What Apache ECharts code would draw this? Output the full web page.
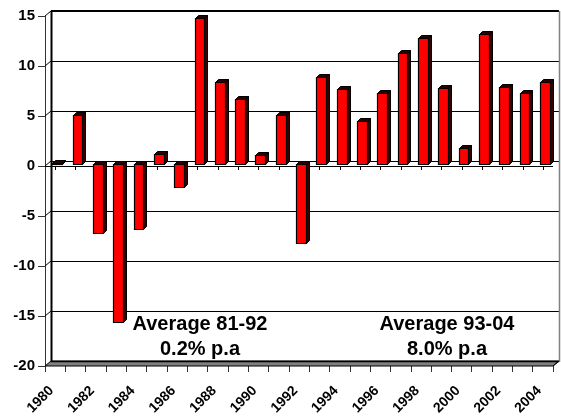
<!DOCTYPE html>
<html><head><meta charset="utf-8">
<script src="https://cdn.jsdelivr.net/npm/echarts@6/dist/echarts.min.js"></script>
<style>html,body{margin:0;padding:0;background:#fff}#c{width:561px;height:418px}</style>
</head><body><div id="c"></div>
<script>
const years = ['1980','1981','1982','1983','1984','1985','1986','1987','1988','1989','1990','1991','1992',
               '1993','1994','1995','1996','1997','1998','1999','2000','2001','2002','2003','2004'];
const growth = [0.1, 4.9, -6.9, -15.8, -6.5, 1.0, -2.3, 14.6, 8.2, 6.5, 0.9, 4.9, -7.9,
                8.7, 7.5, 4.3, 7.1, 11.1, 12.6, 7.6, 1.6, 13.0, 7.7, 7.1, 8.2];
const yTicks = [-20, -15, -10, -5, 0, 5, 10, 15];
const xTickLabels = ['1980','1982','1984','1986','1988','1990','1992','1994','1996','1998','2000','2002','2004'];
const avgText1 = ['Average 81-92', '0.2% p.a'];
const avgText2 = ['Average 93-04', '8.0% p.a'];

const FONT = 'Arial, "Liberation Sans", sans-serif';
const DX = 6, DY = -5;     // back wall depth
const BDX = 3, BDY = -3;   // bar depth
const SHX = 2, SHY = -2;   // bar shift from front plane
const yMin = yTicks[0], yMax = yTicks[yTicks.length - 1];

function px(v) { return Math.round(v) + 0.5; }

function renderFrame(params, api) {
  const cs = params.coordSys;
  const x0 = cs.x, x1 = cs.x + cs.width;
  const yTop = api.coord([0, yMax])[1];
  const yB = api.coord([0, yMin])[1];
  const ch = [];
  const line = (a, b, c, d, color, w) => ch.push({
    type: 'line', shape: { x1: a, y1: b, x2: c, y2: d },
    style: { stroke: color, lineWidth: w }
  });
  ch.push({
    type: 'polygon',
    shape: { points: [[x0, yB], [x1, yB], [x1 + DX, yB + DY], [x0 + DX, yB + DY]] },
    style: { fill: '#808080', stroke: '#000', lineWidth: 1 }
  });
  line(x0 + DX, px(yB + DY), x1 + DX, px(yB + DY), '#000', 1.5);
  yTicks.forEach(v => {
    if (v === yMin) return;
    const y = api.coord([0, v])[1];
    line(x0 + DX, px(y + DY), x1 + DX, px(y + DY), '#000', 1);
    line(x0, y, x0 + DX, y + DY, '#000', 1);
  });
  line(px(x0 + DX), yTop + DY, px(x0 + DX), yB + DY, '#000', 2);
  line(x0 + DX, yTop + DY, x1 + DX, yTop + DY, '#000', 2);
  line(px(x1 + DX), yTop + DY, px(x1 + DX), yB + DY + 1, '#808080', 1.5);
  line(x1, yB, x1 + DX, yB + DY, '#000', 1);
  const y0 = api.coord([0, 0])[1];
  line(x0, px(y0), x1, px(y0), '#000', 1);
  for (let i = 0; i <= years.length; i++) {
    const x = px(api.coord([i - 0.5, 0])[0]);
    line(x, y0, x, y0 + 4, '#000', 1);
  }
  // rotated year labels at category boundaries
  xTickLabels.forEach(lbl => {
    const idx = years.indexOf(lbl);
    const x = api.coord([idx - 0.5, 0])[0];
    ch.push({
      type: 'text', x: x - 8.5, y: yB + 17.5, rotation: Math.PI / 4,
      style: { text: lbl, font: 'bold 14px ' + FONT, fontSize: 14, fontWeight: 'bold', fontFamily: FONT,
               fill: '#000', align: 'right', verticalAlign: 'top' }
    });
  });
  return { type: 'group', children: ch };
}

function renderBar(params, api) {
  const i = api.value(0), v = api.value(1);
  const cx = api.coord([i, 0])[0];
  const yz = api.coord([i, 0])[1];
  const yv = api.coord([i, v])[1];
  const bw = api.size([1, 0])[0] * 0.48;
  const xL = Math.round(cx + SHX - bw / 2) + 0.5, xR = Math.round(cx + SHX + bw / 2) + 0.5;
  const yT = Math.round(Math.min(yz, yv) + SHY) + 0.5;
  const yBt = Math.round(Math.max(yz, yv) + SHY) + 0.5;
  return {
    type: 'group',
    children: [
      { type: 'polygon', shape: { points: [[xR, yT], [xR + BDX, yT + BDY], [xR + BDX, yBt + BDY], [xR, yBt]] },
        style: { fill: '#3a0000', stroke: '#000', lineWidth: 1 } },
      { type: 'polygon', shape: { points: [[xL, yT], [xL + BDX, yT + BDY], [xR + BDX, yT + BDY], [xR, yT]] },
        style: { fill: '#2a0000', stroke: '#000', lineWidth: 1 } },
      { type: 'rect', shape: { x: xL, y: yT, width: xR - xL, height: Math.max(yBt - yT, 1) },
        style: { fill: '#ff0000', stroke: '#000', lineWidth: 1.2 } }
    ]
  };
}

const chart = echarts.init(document.getElementById('c'), null, { renderer: 'canvas' });
chart.setOption({
  backgroundColor: '#fff',
  animation: false,
  grid: { left: 45, right: 8, top: 16, bottom: 52, containLabel: false },
  xAxis: [
    { type: 'category', data: years, boundaryGap: true, show: false, position: 'bottom' },
    { type: 'value', min: 1980, max: 2005, interval: 1, position: 'bottom',
      axisLine: { show: false, onZero: false },
      axisTick: { show: true, length: 6, lineStyle: { color: '#333' } },
      splitLine: { show: false },
      axisLabel: { show: false } }
  ],
  yAxis: {
    type: 'value', min: yMin, max: yMax, interval: 5,
    axisLine: { show: true, onZero: false, lineStyle: { color: '#333', width: 1 } },
    axisTick: { show: true, length: 7, lineStyle: { color: '#333' } },
    splitLine: { show: false },
    axisLabel: { margin: 10, color: '#000', fontWeight: 'bold', fontSize: 15, fontFamily: FONT }
  },
  series: [
    { type: 'custom', name: 'frame', xAxisIndex: 0, yAxisIndex: 0, z: 1, silent: true, clip: false,
      data: [[0, 0]], renderItem: renderFrame },
    { type: 'custom', name: 'growth', xAxisIndex: 0, yAxisIndex: 0, z: 3,
      encode: { x: 0, y: 1 },
      data: growth.map((v, i) => [i, v]), renderItem: renderBar }
  ],
  graphic: [
    { type: 'text', x: 200, y: 324, z: 10, style: { text: avgText1[0], font: 'bold 20px ' + FONT, fill: '#000', align: 'center', verticalAlign: 'middle' } },
    { type: 'text', x: 200, y: 349, z: 10, style: { text: avgText1[1], font: 'bold 20px ' + FONT, fill: '#000', align: 'center', verticalAlign: 'middle' } },
    { type: 'text', x: 447, y: 324, z: 10, style: { text: avgText2[0], font: 'bold 20px ' + FONT, fill: '#000', align: 'center', verticalAlign: 'middle' } },
    { type: 'text', x: 447, y: 349, z: 10, style: { text: avgText2[1], font: 'bold 20px ' + FONT, fill: '#000', align: 'center', verticalAlign: 'middle' } }
  ]
});
</script>
</body></html>
